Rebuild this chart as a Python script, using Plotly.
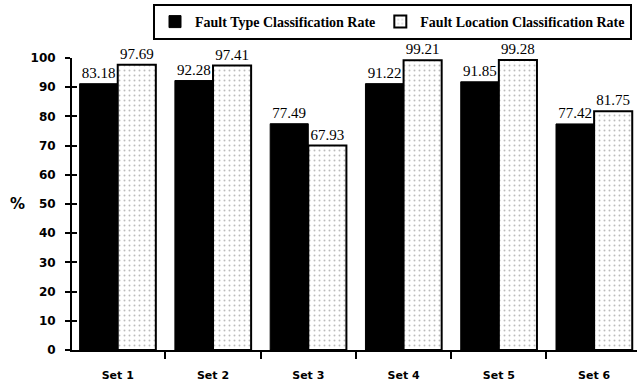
import plotly.graph_objects as go

categories = ["Set 1", "Set 2", "Set 3", "Set 4", "Set 5", "Set 6"]
type_heights = [91.2, 92.28, 77.49, 91.22, 91.85, 77.42]
type_labels = ["83.18", "92.28", "77.49", "91.22", "91.85", "77.42"]
loc_heights = [97.69, 97.41, 70.0, 99.21, 99.28, 81.75]
loc_labels = ["97.69", "97.41", "67.93", "99.21", "99.28", "81.75"]
y_ticks = [0, 10, 20, 30, 40, 50, 60, 70, 80, 90, 100]

serif = "Liberation Serif, Times New Roman, serif"
sans = "DejaVu Sans, Arial, sans-serif"

fig = go.Figure()
fig.add_trace(go.Bar(
    x=categories, y=type_heights, text=type_labels, name="Fault Type Classification Rate",
    marker=dict(color="black", line=dict(color="black", width=1)),
    textposition="outside", textfont=dict(family=serif, size=15, color="black"),
    cliponaxis=False,
))
fig.add_trace(go.Bar(
    x=categories, y=loc_heights, text=loc_labels, name="Fault Location Classification Rate",
    marker=dict(color="white", line=dict(color="black", width=2),
                pattern=dict(shape=".", fgcolor="#777777", bgcolor="white", size=5, solidity=0.12)),
    textposition="outside", textfont=dict(family=serif, size=15, color="black"),
    cliponaxis=False,
))
# invisible trace so the overlaid axis (inside ticks) is drawn
fig.add_trace(go.Scatter(x=[categories[0]], y=[None], yaxis="y2", showlegend=False, hoverinfo="skip"))

fig.update_layout(
    width=637, height=382,
    margin=dict(l=72, r=0, t=58, b=32, autoexpand=False),
    paper_bgcolor="white", plot_bgcolor="white",
    barmode="group", bargap=0.2, bargroupgap=0,
    showlegend=True,
    legend=dict(orientation="h", x=(153 - 72) / 565, y=(350 - 4) / 292, xanchor="left", yanchor="top",
                bordercolor="black", borderwidth=2, bgcolor="white",
                font=dict(family=serif, size=14, color="black", weight="bold"),
                traceorder="normal"),
    xaxis=dict(range=[-0.48, 5.45], showline=True, linecolor="black", linewidth=2, automargin=False,
               ticks="outside", ticklen=7, tickwidth=2, tickcolor="black", tickson="boundaries",
               ticklabelstandoff=14,
               tickfont=dict(family=sans, size=11, color="black", weight="bold"),
               showgrid=False, zeroline=False),
    yaxis=dict(range=[0, 100], tickvals=y_ticks, showline=True, linecolor="black", linewidth=2,
               automargin=False,
               ticks="outside", ticklen=5, tickwidth=2, tickcolor="black",
               ticklabelstandoff=7,
               tickfont=dict(family=sans, size=12, color="black", weight="bold"),
               showgrid=False, zeroline=False),
    yaxis2=dict(range=[0, 100], tickvals=y_ticks, overlaying="y", side="left", automargin=False,
                ticks="inside", ticklen=5, tickwidth=2, tickcolor="black",
                showticklabels=False, showgrid=False, zeroline=False, showline=False),
    annotations=[dict(text="%", x=-55 / 565, y=0.5, xref="paper", yref="paper", showarrow=False,
                      xanchor="center",
                      font=dict(family=sans, size=15, color="black", weight="bold"))],
)

fig.write_html("out.html", config={"displayModeBar": False},
               post_script="document.body.style.margin='0';")
